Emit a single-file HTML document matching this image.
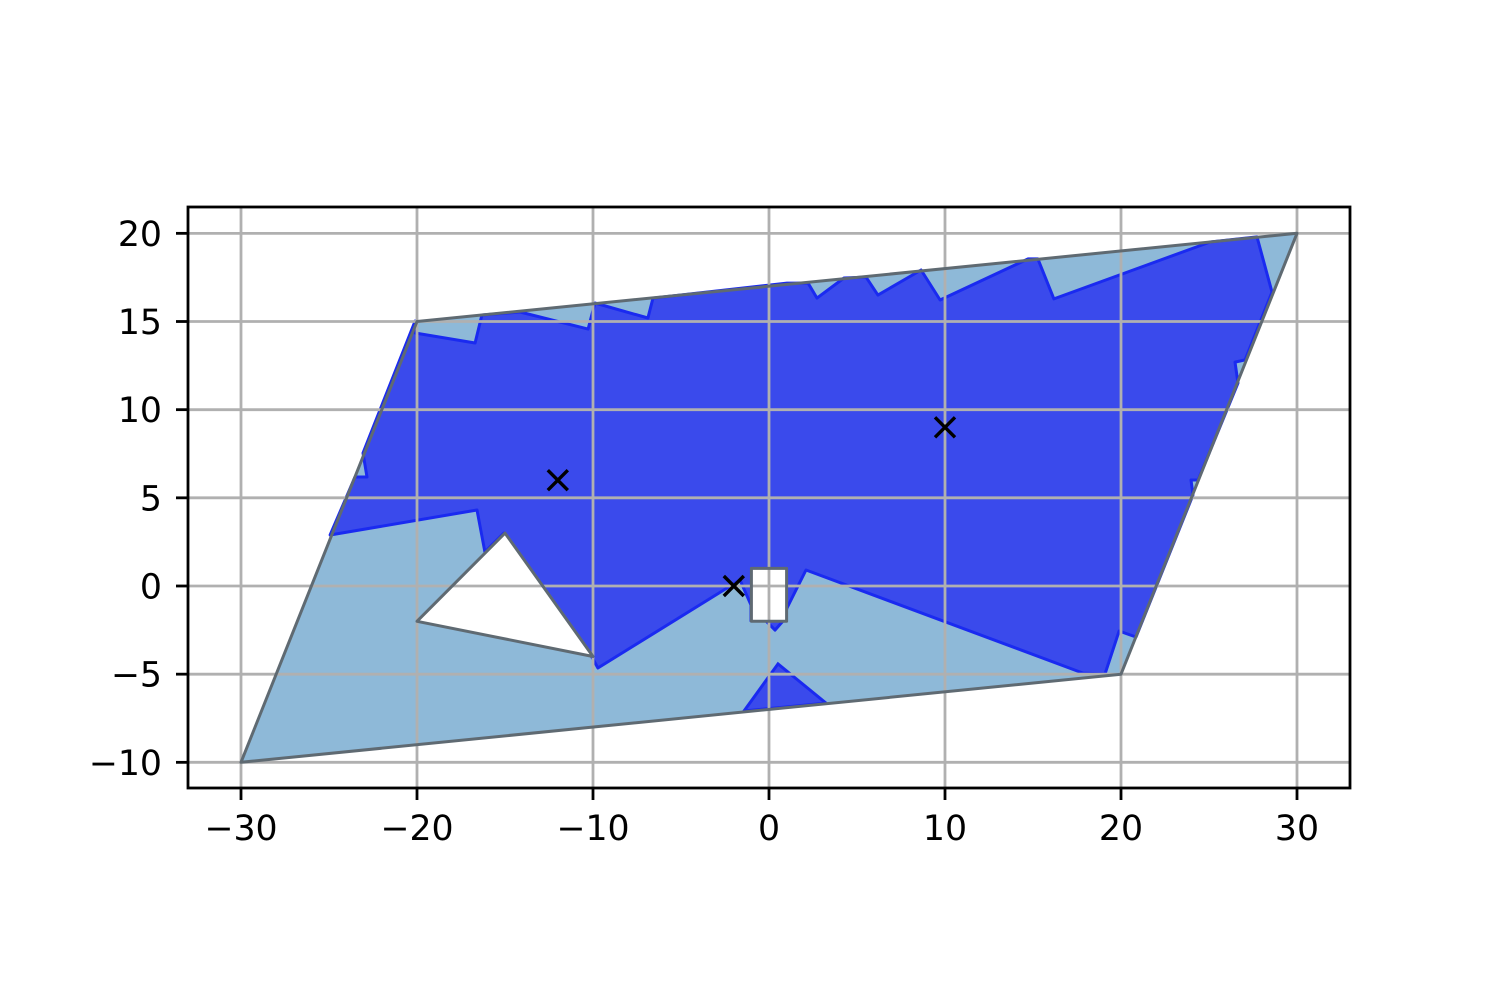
<!DOCTYPE html>
<html><head><meta charset="utf-8"><style>
html,body{margin:0;padding:0;background:#fff;}
svg{display:block;}
text{font-family:"DejaVu Sans","Liberation Sans",sans-serif;font-size:34.7px;fill:#000;}
</style></head><body>
<svg id="chart" width="1500" height="1000" viewBox="0 0 1500 1000" xmlns="http://www.w3.org/2000/svg"></svg>
<script>
const xTicks = [-30,-20,-10,0,10,20,30];
const yTicks = [-10,-5,0,5,10,15,20];
const xTickLabels = ["\u221230","\u221220","\u221210","0","10","20","30"];
const yTickLabels = ["\u221210","\u22125","0","5","10","15","20"];
const outerX = [-30,20,30,-20];
const outerY = [-10,-5,20,15];
const triHoleX = [-20,-15,-10];
const triHoleY = [-2,3,-4];
const sqHoleX = [-1,1,1,-1];
const sqHoleY = [-2,-2,1,1];
const blueX = [-20.11,-20.11,-16.70,-16.31,-14.15,-10.28,-9.89,-6.88,-6.59,1.02,2.22,2.73,4.26,5.51,6.19,8.64,9.72,14.72,15.28,16.19,25.06,27.73,28.58,27.05,26.48,26.65,24.38,23.98,24.09,20.85,19.89,19.09,17.84,2.10,1.02,0.80,0.34,-0.17,-1.02,-1.02,-1.65,-9.72,-10.06,-15.06,-16.14,-16.59,-24.94,-23.52,-22.84,-23.07];
const blueY = [15.03,14.35,13.78,15.37,15.54,14.57,16.05,15.20,16.33,17.18,17.18,16.33,17.47,17.52,16.50,17.92,16.22,18.55,18.55,16.28,19.51,19.80,16.67,12.82,12.70,11.51,6.01,6.01,5.16,-2.89,-2.55,-4.99,-4.94,0.91,-1.25,-1.98,-2.50,-1.98,-1.98,-1.08,0.34,-4.65,-4.03,3.0,1.93,4.31,2.89,6.18,6.18,7.54];
const islandX = [-1.42,0.51,3.24];
const islandY = [-7.09,-4.42,-6.64];
const markX = [-12,10,-2];
const markY = [6,9,0];

const L=188,R=1350,T=207,B=788;
const sx = v => 769 + v*17.6;
const sy = v => 586 - v*17.633;
const svg = document.getElementById('chart');
const NS='http://www.w3.org/2000/svg';
function mk(tag, attrs, parent){const e=document.createElementNS(NS,tag);for(const k in attrs)e.setAttribute(k,attrs[k]);(parent||svg).appendChild(e);return e;}
function pts(xs,ys){return xs.map((x,i)=>sx(x).toFixed(1)+','+sy(ys[i]).toFixed(1)).join(' ');}

// outer polygon with holes
const d = 'M'+pts(outerX,outerY).replace(/ /g,' L')+' Z M'+pts(triHoleX,triHoleY).replace(/ /g,' L')+' Z M'+pts(sqHoleX,sqHoleY).replace(/ /g,' L')+' Z';
const outer = mk('path',{d:d,fill:'#8eb9d8','fill-rule':'evenodd',stroke:'none'});



const blue = mk('polygon',{points:pts(blueX,blueY),fill:'#3a4aec',stroke:'#1a2af0','stroke-width':3,'stroke-linejoin':'round'});


const isl = mk('polygon',{points:pts(islandX,islandY),fill:'#3a4aec',stroke:'#1a2af0','stroke-width':3});



const tri = mk('polygon',{points:pts(triHoleX,triHoleY),fill:'#fff',stroke:'none'});


const sq = mk('polygon',{points:pts(sqHoleX,sqHoleY),fill:'#fff',stroke:'none'});



// grid on top
xTicks.forEach(v=>{const g=mk('line',{x1:sx(v),x2:sx(v),y1:T,y2:B,stroke:'#b0b0b0','stroke-width':2.8});

});
yTicks.forEach(v=>{const g=mk('line',{x1:L,x2:R,y1:sy(v),y2:sy(v),stroke:'#b0b0b0','stroke-width':2.8});

});

// outlines
const ol = mk('path',{d:d,fill:'none',stroke:'#5f6a72','stroke-width':3,'stroke-linejoin':'round'});



// markers
markX.forEach((x,i)=>{const cx=sx(x),cy=sy(markY[i]),s=10;
const g=mk('path',{d:`M${cx-s},${cy-s} L${cx+s},${cy+s} M${cx-s},${cy+s} L${cx+s},${cy-s}`,stroke:'#000','stroke-width':3.4});

});

// spines
const fr=mk('rect',{x:L,y:T,width:R-L,height:B-T,fill:'none',stroke:'#000','stroke-width':2.8});



// ticks & labels
xTicks.forEach((v,i)=>{const t=mk('line',{x1:sx(v),x2:sx(v),y1:B,y2:B+12,stroke:'#000','stroke-width':2.8});


const tx=mk('text',{x:sx(v),y:840,'text-anchor':'middle'});tx.textContent=xTickLabels[i];

});
yTicks.forEach((v,i)=>{const t=mk('line',{x1:L-12,x2:L,y1:sy(v),y2:sy(v),stroke:'#000','stroke-width':2.8});


const tx=mk('text',{x:162,y:sy(v)+12.5,'text-anchor':'end'});tx.textContent=yTickLabels[i];

});
</script>
</body></html>
